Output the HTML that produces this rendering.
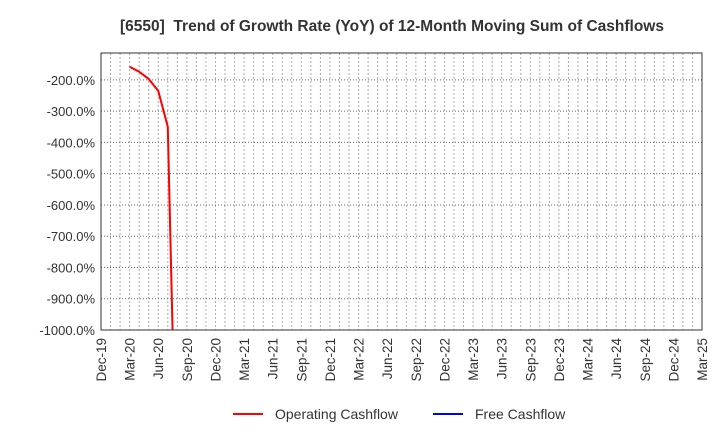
<!DOCTYPE html>
<html><head><meta charset="utf-8"><style>
html,body{margin:0;padding:0;background:#fff;font-family:"Liberation Sans",Arial,sans-serif;width:720px;height:440px;overflow:hidden}
svg{display:block}
</style></head><body>
<svg width="720" height="440" xmlns="http://www.w3.org/2000/svg">
<text x="392" y="31" text-anchor="middle" font-size="15.5" font-weight="bold" fill="#333">[6550]&#160; Trend of Growth Rate (YoY) of 12-Month Moving Sum of Cashflows</text>
<g id="grid"></g>
<g id="axes"></g>
<defs><clipPath id="clip"><rect x="101" y="53" width="601" height="277"/></clipPath></defs>
<g id="series" clip-path="url(#clip)"></g>
<rect x="101" y="53" width="601" height="277" fill="none" stroke="#333" stroke-width="1"/>
<g>
<line x1="233" y1="414" x2="263" y2="414" stroke="#f00" stroke-width="2"/>
<text x="275" y="419" font-size="14" fill="#333">Operating Cashflow</text>
<line x1="433" y1="414" x2="463" y2="414" stroke="#00f" stroke-width="2"/>
<text x="475" y="419" font-size="14" fill="#333">Free Cashflow</text>
</g>
</svg>
<script>
const xLabels=["Dec-19","Mar-20","Jun-20","Sep-20","Dec-20","Mar-21","Jun-21","Sep-21","Dec-21","Mar-22","Jun-22","Sep-22","Dec-22","Mar-23","Jun-23","Sep-23","Dec-23","Mar-24","Jun-24","Sep-24","Dec-24","Mar-25"];
const yTicks=[-200,-300,-400,-500,-600,-700,-800,-900,-1000];
const opMonths=[3,4,5,6,7,8];
const opValues=[-158,-174,-197,-235,-350,-1650];
const fcfMonths=[];
const fcfValues=[];
const ns="http://www.w3.org/2000/svg";
const X0=101,X1=702,Y0=330,Y1=53,YMIN=-1000,YMAX=-114,MONTHS=63;
const xs=m=>X0+(X1-X0)*m/MONTHS;
const ys=v=>Y0-(Y0-Y1)*(v-YMIN)/(YMAX-YMIN);
const grid=document.getElementById('grid'),axes=document.getElementById('axes'),series=document.getElementById('series');
function mk(t,a,p){const e=document.createElementNS(ns,t);for(const k in a)e.setAttribute(k,a[k]);p.appendChild(e);return e;}
for(let m=1;m<MONTHS;m++){const l=mk('line',{x1:xs(m),x2:xs(m),y1:Y1,y2:Y0,stroke:'#aaa','stroke-dasharray':'2,2','stroke-width':1},grid);

}
yTicks.forEach(v=>{const y=ys(v);
const l=mk('line',{x1:X0,x2:X1,y1:y,y2:y,stroke:'#666','stroke-dasharray':'1,2','stroke-width':1},grid);


const t=mk('text',{x:X0-6,y:y+5,'text-anchor':'end','font-size':13,fill:'#333'},axes);t.textContent=v.toFixed(1)+'%';

});
xLabels.forEach((s,i)=>{const x=xs(i*3);
const t=mk('text',{x:0,y:0,transform:`translate(${x+5},${Y0+8}) rotate(-90)`,'text-anchor':'end','font-size':13.5,fill:'#333'},axes);t.textContent=s;

});
function line(ms,vs,c,name){if(!ms.length)return;const p=mk('polyline',{points:ms.map((m,i)=>xs(m)+','+ys(vs[i])).join(' '),fill:'none',stroke:c,'stroke-width':2},series);

}
line(opMonths,opValues,'#f00','operating-cashflow-line');
line(fcfMonths,fcfValues,'#00f','free-cashflow-line');
</script>
</body></html>
